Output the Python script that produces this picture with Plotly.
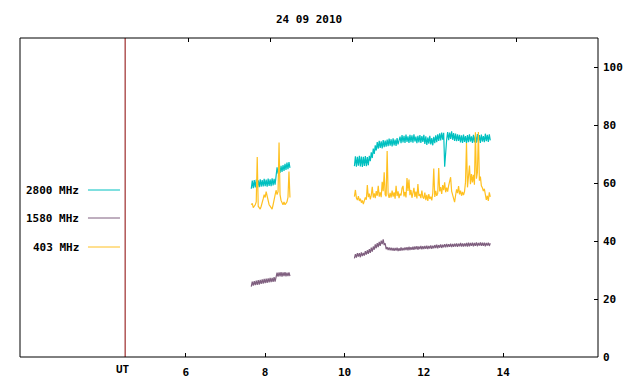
import plotly.graph_objects as go

TITLE = "24 09 2010"
SERIES_NAMES = ["2800 MHz", "1580 MHz", "403 MHz"]
COLORS = ["#00c0c0", "#7f5f7f", "#ffc020"]

# sample grids (UT hours)
SEG1_START, SEG2_START, STEP = 7.65, 10.25, 0.025

teal1 = [58.0,60.8,58.2,61.0,58.5,61.2,58.4,60.9,58.6,61.3,58.7,61.0,58.8,61.4,58.9,61.2,58.7,61.5,59.0,61.3,58.9,61.6,59.2,61.4,59.4,
         63.0,65.4,63.2,65.6,63.5,65.9,63.8,66.2,64.2,66.6,64.5,67.0,64.8,67.2,65.2]
purple1 = [24.3,26.0,24.6,26.2,24.8,26.3,24.9,26.5,25.0,26.6,25.2,26.8,25.3,26.9,25.5,27.0,25.6,27.1,25.7,27.3,25.8,27.3,25.9,27.5,26.0,
           27.6,29.1,27.7,29.2,27.8,29.3,27.7,29.2,27.9,29.3,27.8,29.1,27.9,29.2,27.9]
yellow1 = [52.5,53.0,51.5,52.0,52.5,53.5,69.0,52.0,51.5,51.0,52.0,53.0,54.5,56.0,55.0,57.0,55.0,54.0,52.5,52.0,
           51.5,51.0,52.5,54.0,56.0,57.5,56.0,57.0,74.0,56.0,54.0,53.0,52.5,53.5,52.5,53.0,53.5,55.0,64.0,55.0]

teal2 = [65.8,69.2,65.6,69.0,66.0,69.4,65.7,69.1,65.5,69.0,65.9,69.3,65.8,68.9,66.1,69.4,
         67.5,70.6,68.6,71.9,70.0,73.0,71.2,
         74.1,71.8,74.5,72.1,74.4,71.9,74.8,72.4,74.6,72.5,75.0,
         72.7,75.3,72.9,75.1,72.6,75.4,73.0,75.0,72.8,75.5,73.3,75.2,
         76.0,73.7,76.5,74.0,76.3,73.8,76.7,74.2,76.1,73.8,76.6,74.1,76.4,73.9,76.8,74.3,76.0,73.7,76.3,74.0,76.5,73.8,76.2,74.2,76.6,
         73.5,76.1,73.1,75.7,73.6,76.3,73.3,75.5,73.0,75.9,73.7,76.4,74.1,76.8,74.5,77.1,74.7,77.4,74.9,77.3,
         65.6,71.0,
         75.0,77.6,74.8,77.4,75.2,77.8,74.9,77.2,74.5,77.0,74.4,76.8,74.5,
         76.6,74.0,76.4,73.8,76.7,74.2,76.2,73.7,76.5,74.1,76.8,74.3,76.1,73.8,76.6,74.0,76.3,73.9,76.9,74.2,
         76.5,73.8,76.7,74.3,76.2,74.1,77.0,74.4,76.6,74.2,76.8,74.7]
yellow2 = [55.3,57.6,54.8,54.1,55.5,53.8,54.6,53.2,54.0,52.7,
           53.9,55.0,54.2,59.3,55.1,56.3,54.4,55.8,58.7,55.0,
           56.4,54.8,57.2,55.6,59.0,55.3,56.8,55.1,60.4,57.2,
           63.7,56.0,55.4,71.0,56.2,54.9,56.6,55.0,57.4,55.3,
           56.8,54.6,59.0,55.5,57.1,54.8,56.3,55.7,58.2,59.0,
           55.4,56.9,55.0,61.7,57.3,61.2,55.8,57.6,54.9,56.4,
           58.3,55.2,57.0,54.7,59.6,55.5,56.2,54.8,57.4,55.1,
           54.6,56.7,54.1,55.9,53.8,56.2,54.5,55.3,54.0,56.5,
           65.0,55.2,57.3,55.6,56.4,65.2,57.1,58.6,56.2,59.3,
           57.5,60.2,56.8,58.4,57.0,59.1,60.6,62.0,57.2,56.0,
           54.8,53.4,55.7,57.8,56.5,58.9,56.1,57.4,55.6,56.9,
           55.8,57.0,60.3,73.8,58.5,62.4,66.0,59.6,63.1,60.2,
           62.8,59.4,77.5,61.5,63.6,77.6,60.8,62.2,59.0,58.4,
           57.2,58.0,56.4,54.2,55.6,53.8,56.8,55.2]
purple2 = [34.0,35.5,34.3,35.8,34.6,35.8,34.4,36.1,34.8,35.9,
           35.0,36.5,35.3,36.8,35.6,37.2,35.9,37.7,36.3,38.1,
           37.0,38.8,37.5,39.3,37.9,39.7,38.3,40.1,38.9,40.6,
           38.6,39.2,37.2,37.9,36.9,37.8,36.8,37.7,36.7,37.6,
           36.6,37.6,36.7,37.7,36.5,37.5,36.6,37.8,36.7,37.6,
           36.8,37.8,36.9,37.9,36.8,38.0,36.9,37.9,37.0,38.0,
           37.0,38.1,37.1,38.2,37.0,38.1,37.2,38.3,37.1,38.2,
           37.2,38.3,37.3,38.4,37.2,38.3,37.4,38.5,37.3,38.4,
           37.5,38.6,37.6,38.7,37.5,38.6,37.7,38.8,37.6,38.7,
           37.8,38.9,37.8,39.0,37.9,38.9,38.0,39.1,37.9,39.0,
           38.0,39.1,38.1,39.2,38.0,39.1,38.2,39.3,38.1,39.2,
           38.1,39.2,38.2,39.3,38.1,39.4,38.2,39.3,38.3,39.4,
           38.2,39.3,38.3,39.5,38.2,39.3,38.4,39.5,38.3,39.4,
           38.3,39.4,38.2,39.3,38.4,39.4,38.3,39.2]

X_TICKS = [6, 8, 10, 12, 14]
Y_TICKS = [0, 20, 40, 60, 80, 100]
X_RANGE = [1.82, 16.39]
X2_RANGE = [1.895, 15.99]
Y_RANGE = [0, 110]
UT_HOUR = 4.47


def times(start, n):
    return [round(start + i * STEP, 4) for i in range(n)]


series = [(teal1, teal2), (purple1, purple2), (yellow1, yellow2)]

FONT = dict(family="DejaVu Sans Mono", size=11, color="black", weight="bold")

fig = go.Figure()
for k in [0, 2, 1]:
    s1, s2 = series[k]
    xs = times(SEG1_START, len(s1)) + [None] + times(SEG2_START, len(s2))
    ys = s1 + [None] + s2
    fig.add_trace(go.Scatter(x=xs, y=ys, mode="lines", name=SERIES_NAMES[k],
                             line=dict(color=COLORS[k], width=1.2), connectgaps=False,
                             showlegend=False, hoverinfo="skip"))

# invisible trace for the top tick axis
fig.add_trace(go.Scatter(x=[X2_RANGE[0]], y=[0], xaxis="x2", mode="markers",
                         marker=dict(opacity=0), showlegend=False, hoverinfo="skip"))

# UT marker line
fig.add_shape(type="line", xref="x", yref="paper", x0=UT_HOUR, x1=UT_HOUR, y0=0, y1=1,
              line=dict(color="#880000", width=1))
fig.add_annotation(x=UT_HOUR, y=0, xref="x", yref="paper", yanchor="top", xanchor="center",
                   text="UT", showarrow=False, font=FONT, yshift=-4, xshift=-2)

# frame
fig.add_shape(type="rect", xref="paper", yref="paper", x0=0, x1=1, y0=0, y1=1,
              line=dict(color="black", width=1))

# legend (text + sample lines)
leg_y = [0.5235, 0.4357, 0.3448]
for k in range(3):
    fig.add_annotation(x=0.1055, y=leg_y[k], xref="paper", yref="paper", xanchor="right",
                       yanchor="middle", text=SERIES_NAMES[k], showarrow=False, font=FONT)
    fig.add_shape(type="line", xref="paper", yref="paper", x0=0.1176, x1=0.173,
                  y0=leg_y[k], y1=leg_y[k], line=dict(color=COLORS[k], width=1))

fig.update_layout(
    width=640, height=384,
    margin=dict(l=20, r=42, t=38, b=27, autoexpand=False),
    paper_bgcolor="white", plot_bgcolor="white",
    title=dict(text=TITLE, x=0.483, xanchor="center", y=0.95, yanchor="middle", font=FONT),
    xaxis=dict(range=X_RANGE, tickvals=X_TICKS, ticks="inside", ticklen=4, tickcolor="black",
               showgrid=False, zeroline=False, showline=False, tickfont=FONT,
               ticklabelstandoff=7, automargin=False),
    xaxis2=dict(range=X2_RANGE, tickvals=X_TICKS, overlaying="x", side="top", anchor="y",
                ticks="inside", ticklen=4, tickcolor="black", showticklabels=False,
                showgrid=False, zeroline=False, showline=False, automargin=False),
    yaxis=dict(range=Y_RANGE, tickvals=Y_TICKS, side="right", ticks="inside", ticklen=4,
               tickcolor="black", showgrid=False, zeroline=False, showline=False,
               tickfont=FONT, ticklabelstandoff=4, automargin=False),
)

fig.write_html("out.html", config={"displayModeBar": False},
               post_script="document.body.style.margin='0';")
